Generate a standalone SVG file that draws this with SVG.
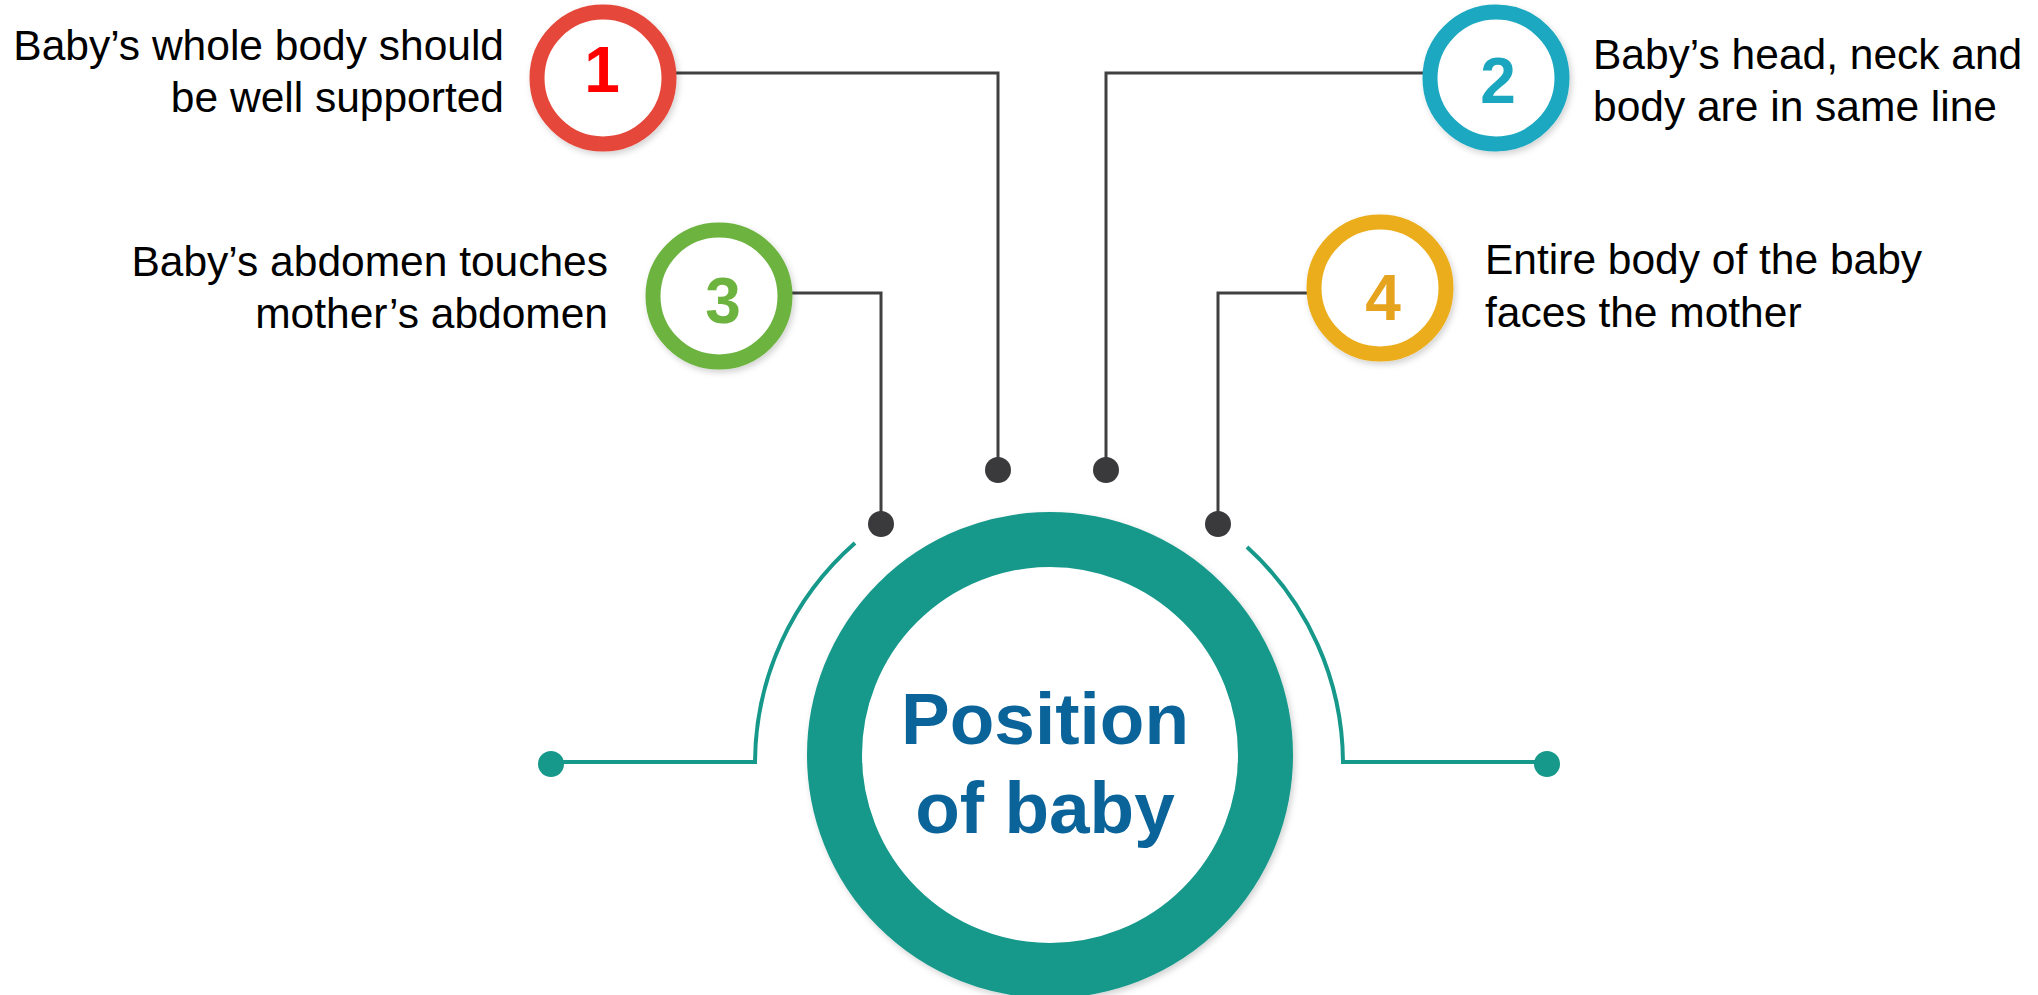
<svg xmlns="http://www.w3.org/2000/svg" width="2038" height="995" viewBox="0 0 2038 995">
<defs>
<style>
.lbl{font-family:"Liberation Sans",Arial,sans-serif;font-size:42.5px;fill:#000}
.num{font-family:"Liberation Sans",Arial,sans-serif;font-size:64px;font-weight:bold;text-anchor:middle}
.title{font-family:"Liberation Sans",Arial,sans-serif;font-size:73px;font-weight:bold;fill:#0A6399;text-anchor:middle}
.conn{fill:none;stroke:#404040;stroke-width:3}
.dot{fill:#3a3a3c}
.arc{fill:none;stroke:#16998A;stroke-width:4}
.tdot{fill:#16998A}
.ring{fill:#fff;stroke-width:15}
</style>
<filter id="sh" x="-20%" y="-20%" width="140%" height="140%">
<feDropShadow dx="2" dy="3" stdDeviation="3" flood-color="#000" flood-opacity="0.18"/>
</filter>
</defs>
<rect width="2038" height="995" fill="#fff"/>
<g id="connectors">
<polyline class="conn" points="675,73 998,73 998,470"/>
<circle class="dot" cx="998" cy="470" r="13"/>
<polyline class="conn" points="1424,73 1106,73 1106,470"/>
<circle class="dot" cx="1106" cy="470" r="13"/>
<polyline class="conn" points="792,293 881,293 881,524"/>
<circle class="dot" cx="881" cy="524" r="13"/>
<polyline class="conn" points="1308,293 1218,293 1218,524"/>
<circle class="dot" cx="1218" cy="524" r="13"/>
<path class="arc" d="M855,543 A293,293 0 0 0 755,762 L551,762"/>
<circle class="tdot" cx="551" cy="764" r="13"/>
<path class="arc" d="M1247,547 A293,293 0 0 1 1343,762 L1547,762"/>
<circle class="tdot" cx="1547" cy="764" r="13"/>
</g>
<g id="center">
<circle cx="1050" cy="755" r="215.5" fill="#fff" stroke="#16998A" stroke-width="55" filter="url(#sh)"/>
<text class="title" x="1045" y="744">Position</text>
<text class="title" x="1045" y="833">of baby</text>
</g>
<g id="node1">
<circle class="ring" cx="603" cy="78" r="66" stroke="#E5473A" filter="url(#sh)"/>
<text class="num" x="602" y="92" fill="#FF0000">1</text>
<text class="lbl" x="504" y="60" text-anchor="end">Baby’s whole body should</text>
<text class="lbl" x="504" y="112" text-anchor="end">be well supported</text>
</g>
<g id="node2">
<circle class="ring" cx="1496" cy="78" r="66" stroke="#1BA8C0" filter="url(#sh)"/>
<text class="num" x="1498" y="103" fill="#1AA6BF">2</text>
<text class="lbl" x="1593" y="69">Baby’s head, neck and</text>
<text class="lbl" x="1593" y="121">body are in same line</text>
</g>
<g id="node3">
<circle class="ring" cx="719" cy="296" r="66" stroke="#6DB33F" filter="url(#sh)"/>
<text class="num" x="723" y="323" fill="#6DB33F">3</text>
<text class="lbl" x="608" y="276" text-anchor="end">Baby’s abdomen touches</text>
<text class="lbl" x="608" y="328" text-anchor="end">mother’s abdomen</text>
</g>
<g id="node4">
<circle class="ring" cx="1380" cy="288" r="66" stroke="#EBAD1B" filter="url(#sh)"/>
<text class="num" x="1383" y="320" fill="#E5A31E">4</text>
<text class="lbl" x="1485" y="274">Entire body of the baby</text>
<text class="lbl" x="1485" y="327">faces the mother</text>
</g>
</svg>
